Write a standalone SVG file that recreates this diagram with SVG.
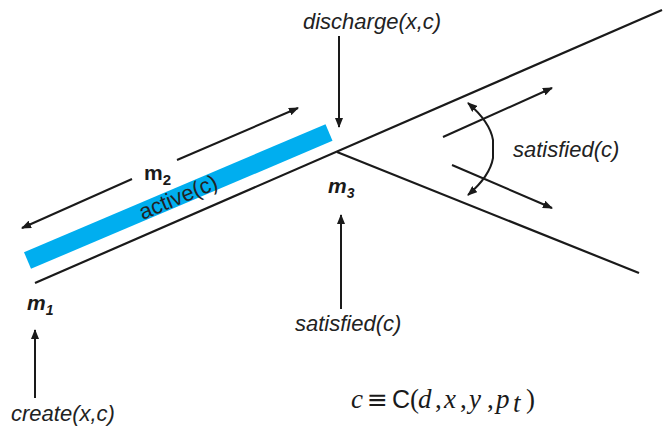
<svg xmlns="http://www.w3.org/2000/svg" width="665" height="432" viewBox="0 0 665 432">
<style>
.ln{stroke:#1a1a1a;stroke-width:2.2;fill:none}
.ar{stroke:#1a1a1a;stroke-width:2;fill:none}
.lbl{font-family:"Liberation Sans",Arial,sans-serif;font-style:italic;font-size:22px;fill:#222}
.m{font-family:"Liberation Sans",Arial,sans-serif;font-style:italic;font-weight:bold;font-size:21px;fill:#1a1a1a}
.mt{font-family:"Liberation Serif","Times New Roman",serif;font-style:italic;font-size:27px;fill:#1a1a1a}
.ms{font-family:"Liberation Serif","Times New Roman",serif;font-size:27px;fill:#1a1a1a}
.eq{font-family:"DejaVu Sans",sans-serif;font-size:25px;fill:#1a1a1a}
.sf{font-family:"Liberation Sans",Arial,sans-serif;font-size:25px;fill:#1a1a1a}
</style>
<defs>
<marker id="ah" viewBox="0 0 10 8" refX="9" refY="4" markerWidth="10" markerHeight="8" markerUnits="userSpaceOnUse" orient="auto-start-reverse">
<path d="M0,0 L10,4 L0,8 z" fill="#1a1a1a"/>
</marker>
</defs>
<g id="bar">
<polygon points="24,252.2 31,268.8 332.5,140.8 325.5,124.2" fill="#00AEEF"/>
<text x="181" y="204" text-anchor="middle" transform="rotate(-22.8 181 204)" style="font-family:'Liberation Sans',Arial,sans-serif;font-size:22px;fill:#222">active(c)</text>
</g>
<g id="connectors">
<line class="ln" x1="35" y1="283" x2="662" y2="10"/>
<line class="ln" x1="337" y1="152" x2="639" y2="273"/>
<path class="ar" d="M132,179 L22,228" marker-end="url(#ah)"/>
<path class="ar" d="M177,160 L298,108" marker-end="url(#ah)"/>
<path class="ar" d="M339,36 L339,127" marker-end="url(#ah)"/>
<path class="ar" d="M341,309 L341,215" marker-end="url(#ah)"/>
<path class="ar" d="M35,398 L35,330" marker-end="url(#ah)"/>
<path class="ar" d="M443,137 L552,88" marker-end="url(#ah)"/>
<path class="ar" d="M452,165 L552,208" marker-end="url(#ah)"/>
<path class="ar" d="M468,103 Q490,122 493,140 L493,158 Q490,176 468,195" marker-start="url(#ah)" marker-end="url(#ah)"/>
</g>
<g id="m1"><text class="m" x="27" y="310">m<tspan font-size="14" dy="5">1</tspan></text></g>
<g id="m2"><text class="m" x="144" y="180" style="font-style:normal">m<tspan font-size="15" dy="5">2</tspan></text></g>
<g id="m3"><text class="m" x="328" y="193">m<tspan font-size="14" dy="5">3</tspan></text></g>
<g id="discharge"><text class="lbl" x="303" y="29">discharge(x,c)</text></g>
<g id="satisfied-bottom"><text class="lbl" x="295" y="331">satisfied(c)</text></g>
<g id="satisfied-right"><text class="lbl" x="513" y="157">satisfied(c)</text></g>
<g id="create"><text class="lbl" x="11" y="421">create(x,c)</text></g>
<g id="formula">
<text y="408"><tspan class="mt" x="351">c</tspan><tspan class="eq" x="367">≡</tspan><tspan class="sf" x="392">C</tspan><tspan class="ms" x="410">(</tspan><tspan class="mt" x="418">d</tspan><tspan class="ms" x="435">,</tspan><tspan class="mt" x="444">x</tspan><tspan class="ms" x="460">,</tspan><tspan class="mt" x="469">y</tspan><tspan class="ms" x="487">,</tspan><tspan class="mt" x="496">p</tspan><tspan class="mt" x="513" dy="4" font-size="18">t</tspan><tspan class="ms" x="526" dy="-4">)</tspan></text>
</g>
</svg>
